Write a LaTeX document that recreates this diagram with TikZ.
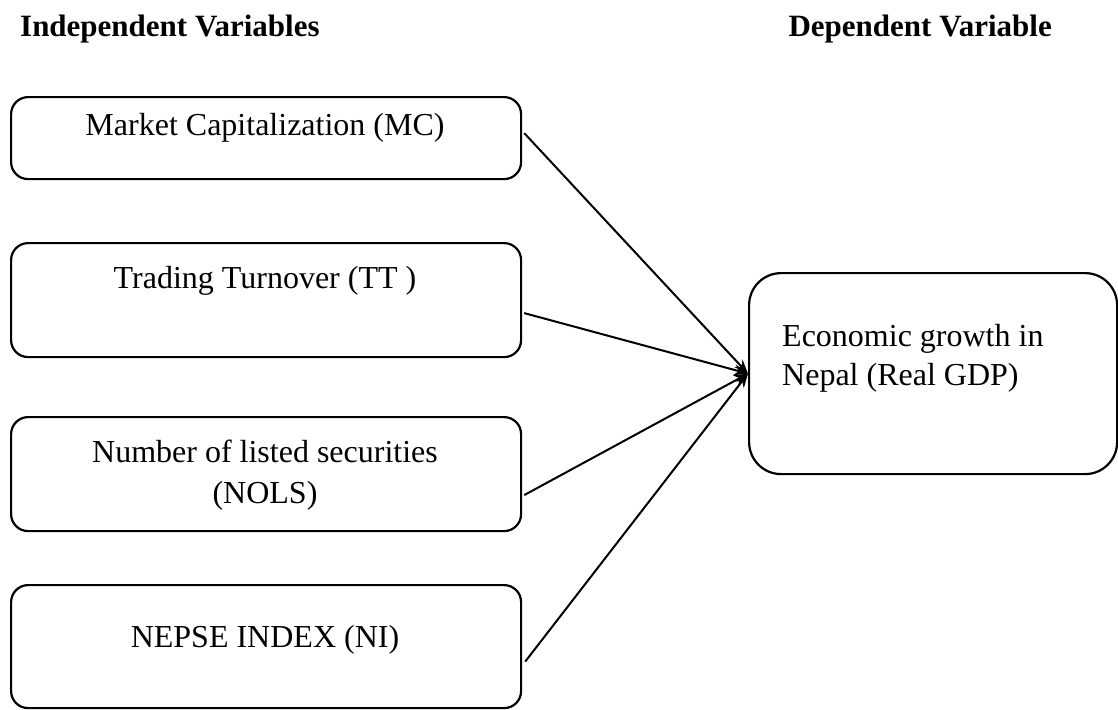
\documentclass[tikz,border=0pt]{standalone}
\usepackage{fontspec}
\setmainfont{Liberation Serif}
\usetikzlibrary{arrows.meta}
\begin{document}
\begin{tikzpicture}[x=1pt,y=-1pt,
  box/.style={draw, line width=2.2pt, rounded corners=17pt, inner sep=0pt, anchor=north west},
  bigbox/.style={draw, line width=2.2pt, rounded corners=32pt, inner sep=0pt, anchor=north west},
  lbl/.style={font=\fontsize{32}{40}\selectfont, inner sep=0pt, anchor=base},
  lbll/.style={font=\fontsize{32}{40}\selectfont, inner sep=0pt, anchor=base west},
  ttl/.style={font=\fontsize{31}{36}\selectfont\bfseries, inner sep=0pt},
  conn/.style={line width=2pt, -{Stealth[length=14pt,width=11pt]}}]
\useasboundingbox (0,0) rectangle (1118,709);
% titles
\node[ttl, anchor=base west] (tind) at (20,37) {Independent Variables};
\node[ttl, anchor=base east] (tdep) at (1052,37) {Dependent Variable};
% boxes
\node[box, minimum width=510pt, minimum height=82pt] (mc) at (10,96) {};
\node[box, minimum width=510pt, minimum height=114pt] (tt) at (10,242) {};
\node[box, minimum width=510pt, minimum height=114pt] (nols) at (10,416) {};
\node[box, minimum width=510pt, minimum height=123pt] (ni) at (10,584) {};
\node[bigbox, minimum width=368pt, minimum height=201pt] (gdp) at (748,272) {};
% texts
\node[lbl] (mct) at (265,135) {Market Capitalization (MC)};
\node[lbl] (ttt) at (265,288) {Trading Turnover (TT )};
\node[lbl] (nolsa) at (265,462) {Number of listed securities};
\node[lbl] (nolsb) at (265,503) {(NOLS)};
\node[lbl] (nit) at (265,647) {NEPSE INDEX (NI)};
\node[lbll] (gdpa) at (782,346) {Economic growth in};
\node[lbll] (gdpb) at (782,385) {Nepal (Real GDP)};
% connectors
\draw[conn] ([shift={(2,-5)}]mc.east) -- (gdp.west);
\draw[conn] ([shift={(2,13)}]tt.east) -- (gdp.west);
\draw[conn] ([shift={(2,21)}]nols.east) -- (gdp.west);
\draw[conn] ([shift={(3,15)}]ni.east) -- (gdp.west);
\end{tikzpicture}
\end{document}
